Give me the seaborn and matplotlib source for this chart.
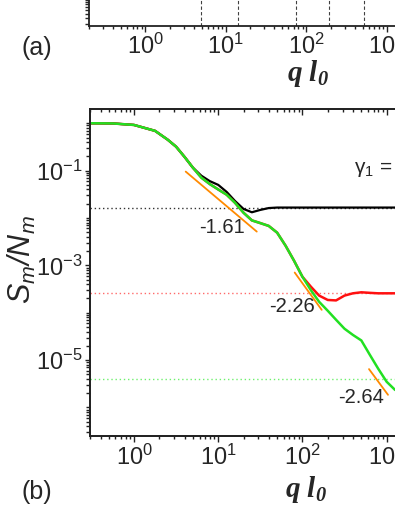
import numpy as np
import pandas as pd
import matplotlib
matplotlib.use("Agg")
import matplotlib.pyplot as plt
import seaborn as sns
from matplotlib.ticker import LogLocator, FixedLocator, NullFormatter

# ---------------- data ----------------
q = [0.3, 0.562, 1.0, 1.78, 2.51, 3.16, 3.98, 5.01, 6.31, 7.94, 10, 12.6, 15.8,
     20, 25.1, 31.6, 39.8, 50.1, 63.1, 79.4, 100, 126, 158, 200, 251, 316, 398,
     501, 631, 794, 1000, 1259, 1585, 2512, 3981, 6310, 10000]

s_green = [1.0, 0.99, 0.92, 0.69, 0.45, 0.32, 0.195, 0.115, 0.071, 0.052, 0.040,
           0.031, 0.021, 0.0129, 0.0089, 0.0078, 0.0068, 0.0049, 0.0026, 0.00126,
           5.75e-4, 3.0e-4, 1.7e-4, 1.1e-4, 7.1e-5, 4.6e-5, 3.4e-5, 2.6e-5, 1.3e-5,
           6.6e-6, 3.5e-6, 2.35e-6, 2.15e-6, 2.6e-6, 3.6e-6, 4.0e-6, 4.0e-6]

s_black = [1.0, 0.99, 0.92, 0.69, 0.45, 0.32, 0.195, 0.115, 0.078, 0.060, 0.050,
           0.0355, 0.0229, 0.0155, 0.0132, 0.0148, 0.0162, 0.0166, 0.0166, 0.0166,
           0.0166, 0.0166, 0.0166, 0.0166, 0.0166, 0.0166, 0.0166, 0.0166, 0.0166,
           0.0166, 0.0166, 0.0166, 0.0166, 0.0166, 0.0166, 0.0166, 0.0166]

s_red = [1.0, 0.99, 0.92, 0.69, 0.45, 0.32, 0.195, 0.115, 0.071, 0.052, 0.040,
         0.031, 0.021, 0.0129, 0.0089, 0.0078, 0.0068, 0.0049, 0.0026, 0.00126,
         5.75e-4, 3.55e-4, 2.3e-4, 1.86e-4, 1.82e-4, 2.3e-4, 2.57e-4, 2.7e-4,
         2.63e-4, 2.57e-4, 2.57e-4, 2.57e-4, 2.57e-4, 2.57e-4, 2.57e-4, 2.57e-4, 2.57e-4]

plateaus = [0.0166, 2.57e-4, 4.0e-6]          # black, red, green dotted levels

slope_q = [[4.11, 28.7], [81.0, 169.5], [618, 1039]]
slope_s = [[0.0953, 5.16e-3], [7.05e-4, 1.15e-4], [6.46e-6, 1.85e-6]]
slope_labels = ["-1.61", "-2.26", "-2.64"]
slope_label_pos = [(11.0, 6.18e-3), (74.6, 1.33e-4), (493, 1.60e-6)]

qa_marks = [4.9, 14.2, 73.8, 194, 520]         # dashed lines in panel (a)

# ---------------- style ----------------
sns.set_style("ticks")
plt.rcParams["font.family"] = ["Liberation Sans", "DejaVu Sans"]
plt.rcParams["mathtext.default"] = "regular"
plt.rcParams["axes.unicode_minus"] = False
plt.rcParams["axes.linewidth"] = 1.3
plt.rcParams["axes.edgecolor"] = "#222222"

W, H = 395, 511
fig = plt.figure(figsize=(W / 100, H / 100), dpi=100)


def px_box(x0, y0, x1, y1):
    return [x0 / W, 1 - y1 / H, (x1 - x0) / W, (y1 - y0) / H]


def style_log_x(a):
    a.xaxis.set_major_locator(LogLocator(base=10, numticks=20))
    a.xaxis.set_minor_locator(LogLocator(base=10, subs=np.arange(2, 10), numticks=20))
    a.xaxis.set_minor_formatter(NullFormatter())


tick_kw = dict(labelsize=17, width=1.0, color="#222222")

# ---------------- panel (a), only its bottom strip is visible ----------------
axa = fig.add_axes(px_box(89, 25.7 - 309, 467.3, 25.7))
axa.set_xscale("log")
axa.set_yscale("log")
axa.set_xlim(0.2, 1e4)
axa.set_ylim(0.28, 1e6)
for xv in qa_marks:
    axa.axvline(xv, color="0.25", lw=0.8, ls=(0, (3, 2)))
style_log_x(axa)
axa.yaxis.set_minor_locator(LogLocator(base=10, subs=np.arange(2, 10), numticks=20))
axa.tick_params(axis="x", which="major", length=4, pad=2, **tick_kw)
axa.tick_params(axis="x", which="minor", length=2.2, width=1.0, color="#222222")
axa.tick_params(axis="y", which="both", length=3, labelleft=False, width=1.0)
axa.set_xlabel("q l$_0$", family="Liberation Serif", fontsize=21,
               fontweight="bold", style="italic")
axa.xaxis.set_label_coords((308.5 - 89) / 378.3, (25.7 - 58) / 309)

# ---------------- panel (b) ----------------
ax = fig.add_axes(px_box(90, 109.5, 470.8, 436))

for s, col, lw in [(s_black, "black", 1.6), (s_red, "#ff1010", 1.8), (s_green, "#22e022", 1.8)]:
    sns.lineplot(x=q, y=s, ax=ax, color=col, lw=lw, estimator=None, sort=False)

for lvl, col in zip(plateaus, ["#333333", "#ff6a6a", "#6ef06e"]):
    ax.axhline(lvl, color=col, lw=1.0, ls=(0, (1, 2)), zorder=1)

for xs, ys in zip(slope_q, slope_s):
    sns.lineplot(x=xs, y=ys, ax=ax, color="#ff8a00", lw=1.3, estimator=None, sort=False)

for lab, (xt, yt) in zip(slope_labels, slope_label_pos):
    ax.text(xt, yt, lab, fontsize=14.5, ha="center", va="center")

ax.text((354 - 90) / 380.8, (436 - 168) / 326.5, "γ$_1$ = 0", transform=ax.transAxes,
        fontsize=15, ha="left", va="center")

ax.set_xscale("log")
ax.set_yscale("log")
ax.set_xlim(0.3, 1e4)
ax.set_ylim(2.5e-7, 1.95)
style_log_x(ax)
ax.yaxis.set_major_locator(FixedLocator([1e-5, 1e-3, 1e-1]))
ax.yaxis.set_minor_locator(LogLocator(base=10, subs=np.arange(1, 10), numticks=30))
ax.yaxis.set_minor_formatter(NullFormatter())
ax.tick_params(axis="x", which="major", length=4, pad=2, **tick_kw)
ax.tick_params(axis="x", which="minor", length=2.2, width=1.0, color="#222222")
ax.tick_params(axis="y", which="major", length=3.8, pad=1.5, **tick_kw)
ax.tick_params(axis="y", which="minor", length=2.8, width=1.0, color="#222222")

ax.set_xlabel("q l$_0$", family="Liberation Serif", fontsize=21,
              fontweight="bold", style="italic")
ax.xaxis.set_label_coords((306 - 90) / 380.8, (436 - 474) / 326.5)
ax.set_ylabel("S$_m$/N$_m$", fontsize=22, style="italic")
ax.yaxis.set_label_coords((38 - 90) / 380.8, (436 - 260) / 326.5)

# top spine ticks point inward
top = ax.twiny()
top.set_xscale("log")
top.set_xlim(ax.get_xlim())
style_log_x(top)
top.tick_params(axis="x", which="major", direction="in", length=4, labeltop=False,
                width=1.0, color="#222222")
top.tick_params(axis="x", which="minor", direction="in", length=2.2, width=1.0,
                color="#222222")

fig.text(37 / W, 1 - 48.5 / H, "(a)", fontsize=18, ha="center", va="center")
fig.text(37 / W, 1 - 492 / H, "(b)", fontsize=18, ha="center", va="center")

fig.savefig("out.png", dpi=100)
